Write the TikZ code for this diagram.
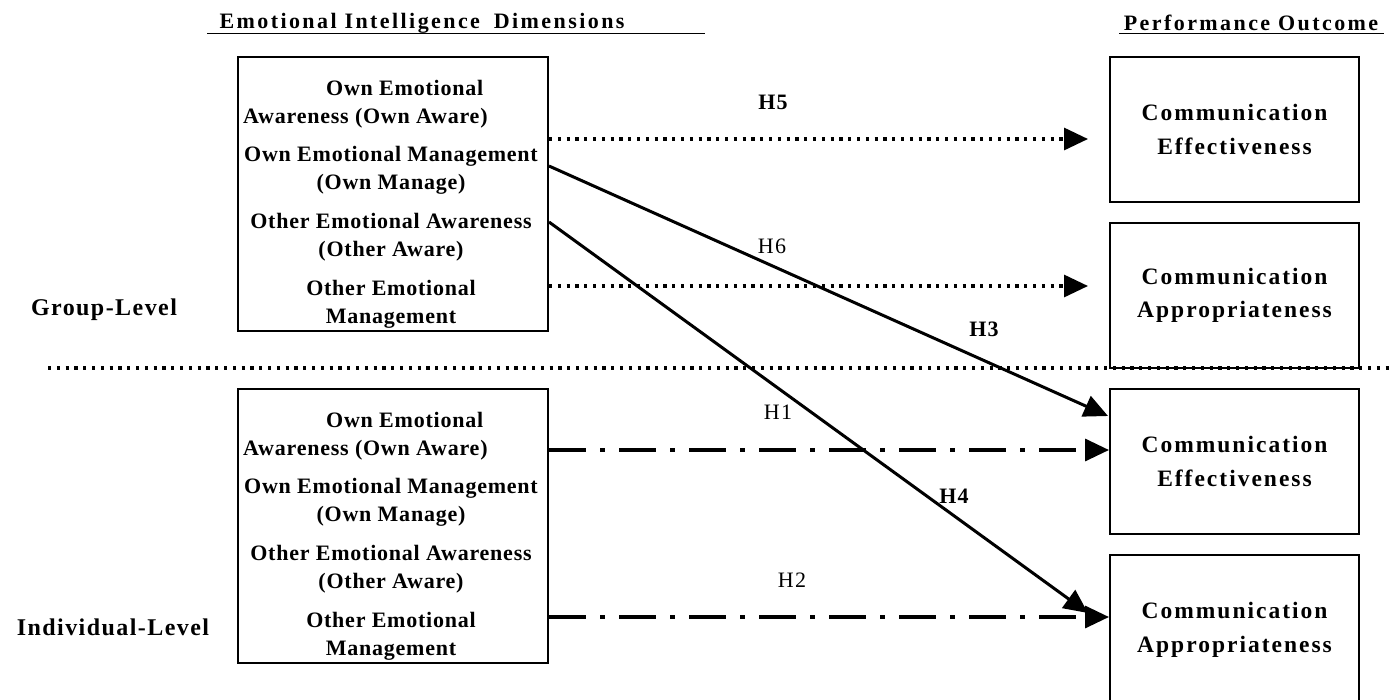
\documentclass[tikz,border=0pt]{standalone}
\usepackage{fontspec}
\setmainfont{Liberation Serif}
\newfontfamily\boxfont[LetterSpace=3.5]{Liberation Serif}
\newfontfamily\outfont[LetterSpace=8.5]{Liberation Serif}
\newfontfamily\headfont[LetterSpace=11]{Liberation Serif}
\newfontfamily\levelfont[LetterSpace=6]{Liberation Serif}
\newfontfamily\hypfont[LetterSpace=6]{Liberation Serif}
\usetikzlibrary{arrows.meta}
\begin{document}
\begin{tikzpicture}[x=1pt,y=-1pt,
  dimbox/.style={draw,line width=2pt,minimum width=310pt,minimum height=274pt,inner sep=0pt},
  outbox/.style={draw,line width=2pt,minimum width=249pt,minimum height=145pt,inner sep=0pt,
    align=center,font=\outfont\bfseries\fontsize{23.5}{33.5}\selectfont},
  item/.style={inner sep=0pt,align=center,font=\boxfont\bfseries\fontsize{22}{28}\selectfont},
  itemleft/.style={item,align=left,anchor=west},
  header/.style={inner sep=0pt,font=\headfont\bfseries\fontsize{22}{26}\selectfont},
  level/.style={inner sep=0pt,font=\levelfont\bfseries\fontsize{24}{28}\selectfont},
  hypb/.style={inner sep=0pt,font=\hypfont\bfseries\fontsize{22}{26}\selectfont},
  hypr/.style={inner sep=0pt,font=\hypfont\fontsize{22}{26}\selectfont},
  link/.style={line width=3pt},
  dotline/.style={line width=3.2pt,dash pattern=on 3.2pt off 5.6pt},
  dashdot/.style={line width=3.4pt,dash pattern=on 37pt off 14pt on 5pt off 14pt},
  tip/.style={-{Triangle[length=24pt,width=22pt]}}
]
\useasboundingbox (0,0) rectangle (1392,699);

% column headers
\node[header] (hdim) at (422,23) {Emotional Intelligence\hspace{6pt} Dimensions};
\draw[line width=1.8pt] (207,33.5) -- (705,33.5);
\node[header] (hout) at (1251,23) {Performance Outcome};
\draw[line width=1.8pt] (1119,33.5) -- (1384,33.5);

% level labels
\node[level] (glev) at (104,310) {Group-Level};
\node[level] (ilev) at (113,627) {Individual-Level};

% group-level dimension box
\node[dimbox] (gdim) at (393,194) {};
\node[itemleft] (g1) at (243,104) {\hspace*{83pt}Own Emotional\\Awareness (Own Aware)};
\node[item] (g2) at (391,170) {Own Emotional Management\\(Own Manage)};
\node[item] (g3) at (391,237) {Other Emotional Awareness\\(Other Aware)};
\node[item] (g4) at (391,304) {Other Emotional\\Management};

% individual-level dimension box
\node[dimbox] (idim) at (393,526) {};
\node[itemleft] (i1) at (243,436) {\hspace*{83pt}Own Emotional\\Awareness (Own Aware)};
\node[item] (i2) at (391,502.5) {Own Emotional Management\\(Own Manage)};
\node[item] (i3) at (391,569) {Other Emotional Awareness\\(Other Aware)};
\node[item] (i4) at (391,636) {Other Emotional\\Management};

% outcome boxes
\node[outbox] (gce) at (1234.5,129.5) {Communication\\Effectiveness};
\node[outbox] (gca) at (1234.5,295.5) {Communication\\Appropriateness};
\node[outbox] (ice) at (1234.5,461.5) {Communication\\Effectiveness};
\node[outbox,minimum height=150pt] (ica) at (1234.5,630) {Communication\\Appropriateness};

% level separator
\coordinate (sepL) at (48,368);
\coordinate (sepR) at (1392,368);
\draw[dotline] (sepL) -- (sepR);

% arrow end points
\coordinate (e5) at (1088,139);
\coordinate (e6) at (1088,286);
\coordinate (e3) at (1108,416);
\coordinate (e4) at (1088,613);

% hypothesised paths
\draw[dotline,tip] (gdim.east |- 0,139) -- (e5);
\draw[dotline,tip] (gdim.east |- 0,286) -- (e6);
\draw[link,tip] (gdim.east |- 0,166) -- (e3);
\draw[link,tip] (gdim.east |- 0,222) -- (e4);
\draw[dashdot,tip] (idim.east |- 0,450) -- (ice.west |- 0,450);
\draw[dashdot,tip] (idim.east |- 0,617) -- (ica.west |- 0,617);

% path labels
\node[hypb] (h5) at (773,102) {H5};
\node[hypr] (h6) at (772,246) {H6};
\node[hypb] (h3) at (984,329) {H3};
\node[hypr] (h1) at (778,412) {H1};
\node[hypb] (h4) at (954,496) {H4};
\node[hypr] (h2) at (792,580) {H2};
\end{tikzpicture}
\end{document}
